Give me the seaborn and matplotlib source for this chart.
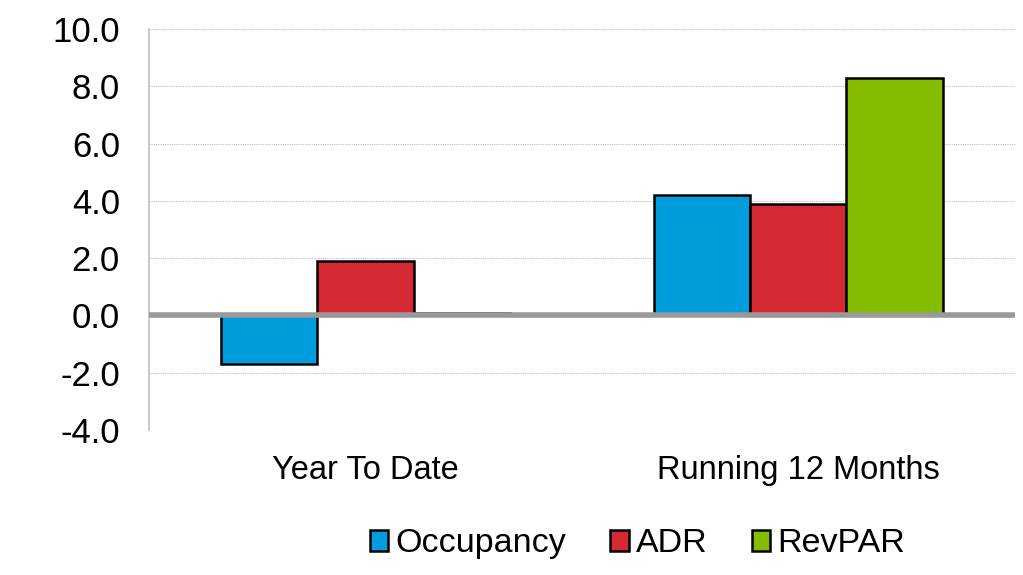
import pandas as pd
import numpy as np
import matplotlib
matplotlib.use("Agg")
import matplotlib.pyplot as plt
import seaborn as sns

# chart values (percent change)
periods = ["Year To Date", "Running 12 Months"]
metrics = ["Occupancy", "ADR", "RevPAR"]
occupancy = [-1.7, 4.2]
adr = [1.9, 3.9]
revpar = [0.1, 8.3]
colors = ["#009DDC", "#D42833", "#84BC00"]
y_ticks = [-4.0, -2.0, 0.0, 2.0, 4.0, 6.0, 8.0, 10.0]

df = pd.DataFrame({
    "period": periods * 3,
    "metric": [m for m in metrics for _ in periods],
    "value": occupancy + adr + revpar,
})

sns.set_style("white")
plt.rcParams["font.family"] = ["Liberation Sans", "DejaVu Sans"]
plt.rcParams["text.color"] = "black"
plt.rcParams["xtick.color"] = "black"
plt.rcParams["ytick.color"] = "black"

fig = plt.figure(figsize=(10.23, 5.75), dpi=100)
ax = fig.add_axes([0.1457, 0.252, 0.8463, 0.6976])

sns.barplot(data=df, x="period", y="value", hue="metric", order=periods,
            hue_order=metrics, palette=colors, saturation=1, width=0.667,
            edgecolor="black", linewidth=1.8, ax=ax, zorder=3)

ax.set_xlim(-0.5, 1.5)
ax.set_ylim(-4, 10)
ax.set_yticks(y_ticks)
ax.set_yticklabels([f"{v:.1f}" for v in y_ticks], fontsize=25)
ax.tick_params(axis="x", labelsize=23.5, length=0, pad=18, labelcolor="black")
ax.tick_params(axis="y", length=7, color="#BFBFBF", width=1, pad=14, labelcolor="black")
ax.set_xlabel("")
ax.set_ylabel("")

# dotted gridlines and thick zero line
for v in y_ticks:
    if v != 0:
        ax.axhline(v, color="#BFBFBF", linestyle=(0, (1, 1)), linewidth=0.8, zorder=1)
ax.axhline(0, color="#999999", linewidth=4, zorder=4)

for side in ["top", "right", "bottom"]:
    ax.spines[side].set_visible(False)
ax.spines["left"].set_color("#BFBFBF")
ax.spines["left"].set_linewidth(1.2)

handles, labels = ax.get_legend_handles_labels()
ax.get_legend().remove()
fig.legend(handles, labels, loc="center", bbox_to_anchor=(0.623, 0.054), ncol=3,
           frameon=False, fontsize=24.5, handlelength=0.55, handleheight=0.55,
           handletextpad=0.2, columnspacing=1.3)

fig.savefig("out.png", dpi=100)
